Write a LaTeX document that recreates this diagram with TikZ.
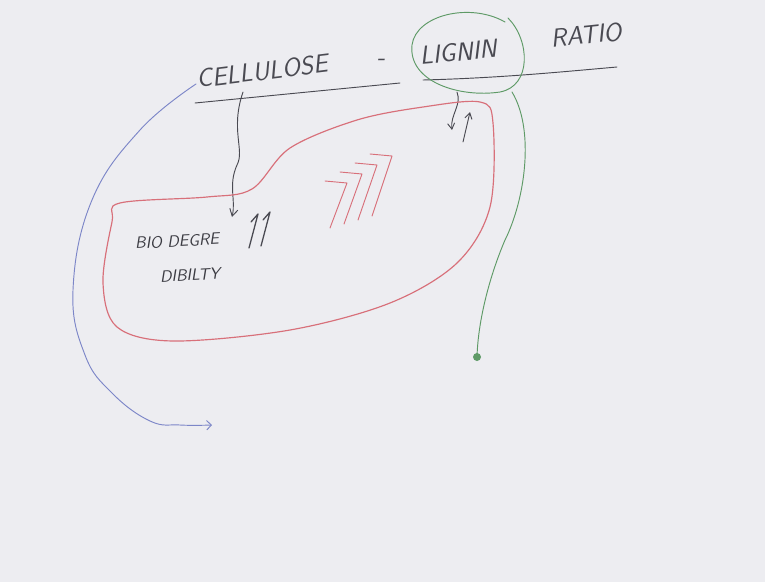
\documentclass[tikz,border=0pt]{standalone}
\usepackage{tikz}
\usetikzlibrary{calc}
\usetikzlibrary{arrows.meta}
\usepackage{xcolor}
\definecolor{board}{HTML}{EDEDF1}
\definecolor{penblack}{HTML}{4A4A52}
\definecolor{penred}{HTML}{D8707A}
\definecolor{pengreen}{HTML}{5E9A66}
\definecolor{penblue}{HTML}{7C86C8}

\begin{document}
\begin{tikzpicture}[
			x=0.03cm, y=-0.03cm,
			pen/.style = {line width=0.8pt, line cap=round, line join=round},
			word/.style = {font=\sffamily\itshape\fontsize{22}{26}\selectfont, text=penblack, inner sep=0pt},
			small/.style = {font=\sffamily\itshape\fontsize{14}{16}\selectfont, text=penblack!80!black, inner sep=0pt}
			]
			\fill[board] (0,0) rectangle (765,582);
			\useasboundingbox (0,0) rectangle (765,582);
			
			% title line
			\node[word, rotate=7] (cell) at (262,71) {CELLULOSE};
			\node[word] (dash) at (381,62) {-};
			\node[word, rotate=5] (lig) at (458,52) {LIGNIN};
			\node[word, rotate=6] (ratio) at (586,35) {RATIO};
			\coordinate (ul0) at (195,103);
			\coordinate (ul1) at (400,83);
			\coordinate (ul2) at (423,80);
			\coordinate (ul3) at (617,67);
			\draw[pen, penblack] (ul0) -- (ul1);
			\draw[pen, penblack] (ul2) .. controls (500,78) and (560,72) .. (ul3);
			
			% green ring round lignin
			\draw[pen, pengreen] (505,22) .. controls (470,2) and (416,15) .. (412,45)
				.. controls (408,82) and (460,98) .. (500,92)
				.. controls (532,86) and (530,40) .. (508,18);
			\coordinate (gdot) at (477,357);
			\draw[pen, pengreen] (512,92) .. controls (535,130) and (525,200) .. (505,240)
				.. controls (490,275) and (478,320) .. (gdot);
			\fill[pengreen] (gdot) circle (4);
			
			% wavy arrow down
			\coordinate (wv0) at (243,92);
			\coordinate (wv1) at (232,217);
			\draw[pen, penblack, -{Straight Barb[length=6pt,width=7pt]}] (wv0) .. controls (230,130) and (245,150) .. (237,165)
				.. controls (228,185) and (236,200) .. (wv1);
			
			% small arrows
			\coordinate (da0) at (457,92);
			\coordinate (da1) at (452,130);
			\draw[pen, penblack, -{Straight Barb[length=5pt,width=6pt]}] (da0) .. controls (462,105) and (450,115) .. (da1);
			\coordinate (ua0) at (463,142);
			\coordinate (ua1) at (470,112);
			\draw[pen, penblack, -{Straight Barb[length=5pt,width=6pt]}] (ua0) -- (ua1);
			
			% red blob
			\draw[pen, penred, line width=1pt] plot[smooth cycle, tension=0.55] coordinates {
				(120,203) (207,197) (252,189) (290,148) (357,120) (423,107) (480,102) (493,123)
				(490,207) (457,263) (390,303) (290,330) (173,341) (117,327) (103,283) (112,222)};
			
			% text in blob
			\node[small, rotate=3] (bio) at (177,241) {BIO DEGRE};
			\node[small, rotate=3] (dib) at (190,275) {DIBILTY};
			
			% up marks
			\foreach \i in {0,1} {
				\draw[pen, penblack, line width=1.1pt] ($(249,248)+(12*\i,-2*\i)$) -- ($(258,214)+(12*\i,-2*\i)$) -- ($(251,222)+(12*\i,-2*\i)$);
			}
			\foreach \i in {0,1,2,3} {
				\draw[pen, penred] ($(330,228)+(14*\i,-4*\i)$) -- ($(347,183)+(15*\i,-9*\i)$) -- ($(325,181)+(15*\i,-9*\i)$);
			}
			
			% blue arrow
			\coordinate (bl0) at (196,84);
			\coordinate (bl1) at (212,425);
			\draw[pen, penblue, -{Straight Barb[length=4pt,width=8pt]}] plot[smooth, tension=0.7] coordinates {
				(bl0) (140,130) (92,200) (73,290) (85,355) (112,393) (150,421) (180,425) (bl1)};
		\end{tikzpicture}
\end{document}
